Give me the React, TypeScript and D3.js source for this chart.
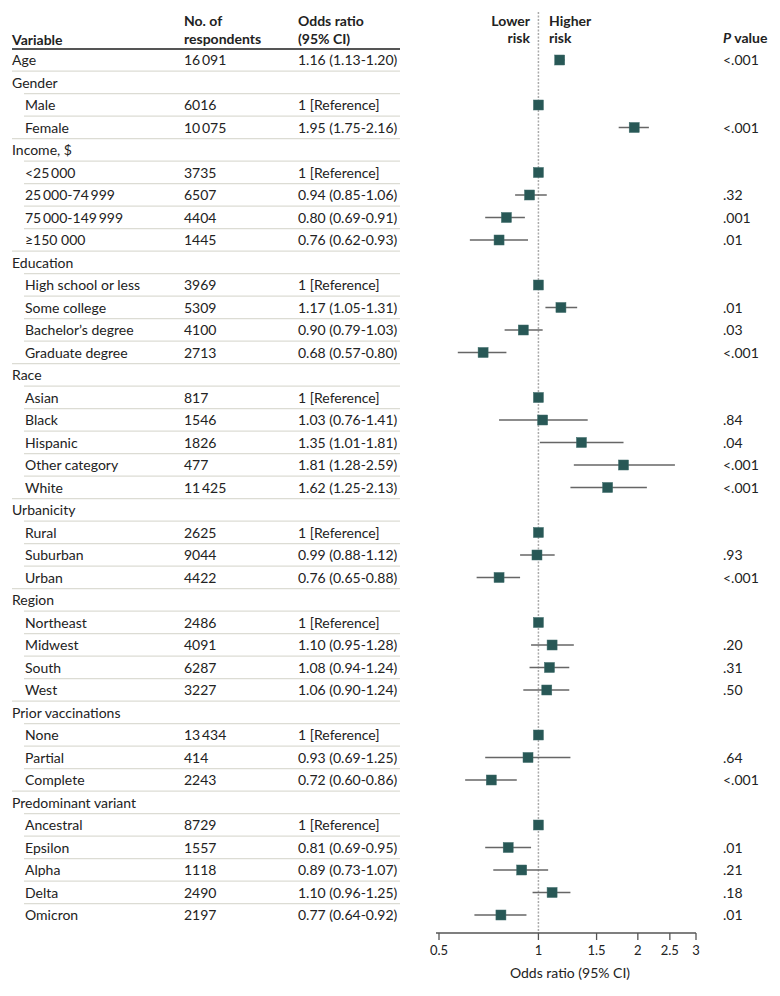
import React from "react";
import * as d3 from "d3";

const labels = [
  "Age", "Gender", "Male", "Female", "Income, $", "<25\u2009000", "25\u2009000-74\u2009999", "75\u2009000-149\u2009999", "\u2265150 000",
  "Education", "High school or less", "Some college", "Bachelor\u2019s degree", "Graduate degree",
  "Race", "Asian", "Black", "Hispanic", "Other category", "White",
  "Urbanicity", "Rural", "Suburban", "Urban",
  "Region", "Northeast", "Midwest", "South", "West",
  "Prior vaccinations", "None", "Partial", "Complete",
  "Predominant variant", "Ancestral", "Epsilon", "Alpha", "Delta", "Omicron",
];
const levels = [
  0, 0, 1, 1, 0, 1, 1, 1, 1,
  0, 1, 1, 1, 1,
  0, 1, 1, 1, 1, 1,
  0, 1, 1, 1,
  0, 1, 1, 1, 1,
  0, 1, 1, 1,
  0, 1, 1, 1, 1, 1,
];
const respondents: (number | null)[] = [
  16091, null, 6016, 10075, null, 3735, 6507, 4404, 1445,
  null, 3969, 5309, 4100, 2713,
  null, 817, 1546, 1826, 477, 11425,
  null, 2625, 9044, 4422,
  null, 2486, 4091, 6287, 3227,
  null, 13434, 414, 2243,
  null, 8729, 1557, 1118, 2490, 2197,
];
const oddsRatio: (number | null)[] = [
  1.16, null, 1, 1.95, null, 1, 0.94, 0.8, 0.76,
  null, 1, 1.17, 0.9, 0.68,
  null, 1, 1.03, 1.35, 1.81, 1.62,
  null, 1, 0.99, 0.76,
  null, 1, 1.1, 1.08, 1.06,
  null, 1, 0.93, 0.72,
  null, 1, 0.81, 0.89, 1.1, 0.77,
];
const ciLow: (number | null)[] = [
  1.13, null, null, 1.75, null, null, 0.85, 0.69, 0.62,
  null, null, 1.05, 0.79, 0.57,
  null, null, 0.76, 1.01, 1.28, 1.25,
  null, null, 0.88, 0.65,
  null, null, 0.95, 0.94, 0.9,
  null, null, 0.69, 0.6,
  null, null, 0.69, 0.73, 0.96, 0.64,
];
const ciHigh: (number | null)[] = [
  1.2, null, null, 2.16, null, null, 1.06, 0.91, 0.93,
  null, null, 1.31, 1.03, 0.8,
  null, null, 1.41, 1.81, 2.59, 2.13,
  null, null, 1.12, 0.88,
  null, null, 1.28, 1.24, 1.24,
  null, null, 1.25, 0.86,
  null, null, 0.95, 1.07, 1.25, 0.92,
];
const pValues: (string | null)[] = [
  "<.001", null, null, "<.001", null, null, ".32", ".001", ".01",
  null, null, ".01", ".03", "<.001",
  null, null, ".84", ".04", "<.001", "<.001",
  null, null, ".93", "<.001",
  null, null, ".20", ".31", ".50",
  null, null, ".64", "<.001",
  null, null, ".01", ".21", ".18", ".01",
];
const axisTicks = [0.5, 1, 1.5, 2, 2.5, 3];
const axisTickLabels = ["0.5", "1", "1.5", "2", "2.5", "3"];

const FONT = "Lato, 'Open Sans', sans-serif";
const TEXT = "#222";

function fmtN(n: number) {
  const s = String(n);
  return n >= 10000 ? s.slice(0, s.length - 3) + "\u2009" + s.slice(-3) : s;
}
function fmtOR(i: number) {
  const o = oddsRatio[i];
  if (o === null) return "";
  if (ciLow[i] === null) return "1 [Reference]";
  return `${o.toFixed(2)} (${(ciLow[i] as number).toFixed(2)}-${(ciHigh[i] as number).toFixed(2)})`;
}

export default function App() {
  const n = labels.length;
  const y = d3.scaleLinear().domain([0, n - 1]).range([60, 915]);
  const x = d3.scaleLog().domain([0.5, 3]).range([439, 696]);
  const axisY = 933;
  const rowH = 22.5;

  // group end: a row is last in group if next row is level 0 or it's the last row
  const isGroupEnd = (i: number) => i === n - 1 || levels[i + 1] === 0 && levels[i] === 1 || (levels[i] === 0 && respondents[i] !== null);

  return (
    <svg width={780} height={996} style={{ position: "absolute", left: 0, top: 0, background: "#fff" }} fontFamily={FONT}>
      {/* header */}
      <g fill={TEXT} fontSize={14} fontWeight={700}>
        <text x={12} y={45}>Variable</text>
        <text x={184} y={26}>No. of</text>
        <text x={184} y={44}>respondents</text>
        <text x={298} y={26}>Odds ratio</text>
        <text x={298} y={44}>(95% CI)</text>
        <text x={530} y={26} textAnchor="end">Lower</text>
        <text x={530} y={43} textAnchor="end">risk</text>
        <text x={549} y={26}>Higher</text>
        <text x={549} y={43}>risk</text>
        <text x={723} y={65 - rowH}>
          <tspan fontStyle="italic">P</tspan>
          <tspan> value</tspan>
        </text>
      </g>
      <line x1={12} x2={400} y1={49} y2={49} stroke="#555" strokeWidth={2} />

      {/* rows */}
      {labels.map((lab, i) => {
        const cy = y(i);
        const indent = levels[i] === 1 ? 25 : 12;
        const lineX1 = isGroupEnd(i) ? 12 : 24;
        return (
          <g key={i}>
            {i < n - 1 && (
              <line x1={lineX1} x2={400} y1={cy + 11.2} y2={cy + 11.2} stroke="#dcdcd4" strokeWidth={1.2} />
            )}
            <text x={indent} y={cy + 5} fontSize={14} fill={TEXT}>{lab}</text>
            {respondents[i] !== null && (
              <text x={184} y={cy + 5} fontSize={14} fill={TEXT}>{fmtN(respondents[i] as number)}</text>
            )}
            <text x={298} y={cy + 5} fontSize={14} fill={TEXT}>{fmtOR(i)}</text>
            {pValues[i] !== null && (
              <text x={723} y={cy + 5} fontSize={14} fill={TEXT}>{pValues[i]}</text>
            )}
          </g>
        );
      })}

      {/* reference line */}
      <line x1={x(1)} x2={x(1)} y1={12} y2={axisY} stroke="#aaa" strokeWidth={1.5} strokeDasharray="2,1.5" />

      {/* CIs and markers */}
      {labels.map((_, i) => {
        const o = oddsRatio[i];
        if (o === null) return null;
        const cy = y(i);
        return (
          <g key={"m" + i}>
            {ciLow[i] !== null && (
              <line x1={x(ciLow[i] as number)} x2={x(ciHigh[i] as number)} y1={cy} y2={cy} stroke="#666" strokeWidth={1.5} />
            )}
            <rect x={x(o) - 5} y={cy - 5} width={10} height={10} fill="#285856" stroke="#3d6a68" strokeWidth={0.5} />
          </g>
        );
      })}

      {/* axis */}
      <line x1={436} x2={696} y1={axisY} y2={axisY} stroke="#555" strokeWidth={1.3} />
      {axisTicks.map((t, k) => (
        <g key={"t" + k}>
          <line x1={x(t)} x2={x(t)} y1={axisY} y2={axisY + 7} stroke="#555" strokeWidth={1.3} />
          <text x={x(t)} y={axisY + 22} textAnchor="middle" fontSize={13} fill={TEXT}>{axisTickLabels[k]}</text>
        </g>
      ))}
      <text x={570} y={978} textAnchor="middle" fontSize={14} fill={TEXT}>Odds ratio (95% CI)</text>
    </svg>
  );
}
